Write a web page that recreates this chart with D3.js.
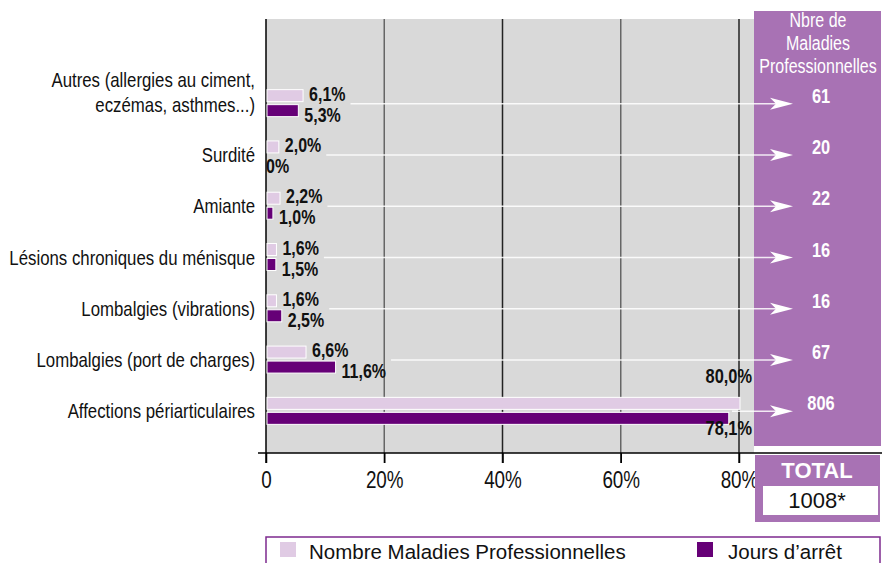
<!DOCTYPE html>
<html>
<head>
<meta charset="utf-8">
<script src="https://cdn.jsdelivr.net/npm/d3@7"></script>
<style>
  body { margin: 0; background: #fff; }
  svg { display: block; }
  text { font-family: "Liberation Sans", Arial, Helvetica, sans-serif; }
</style>
</head>
<body>
<svg id="chart" width="882" height="563"></svg>
<script>
// ---- data ----
const categories = [
  "Autres (allergies au ciment,\neczémas, asthmes...)",
  "Surdité",
  "Amiante",
  "Lésions chroniques du ménisque",
  "Lombalgies (vibrations)",
  "Lombalgies (port de charges)",
  "Affections périarticulaires"
];
const maladiesPct = [6.1, 2.0, 2.2, 1.6, 1.6, 6.6, 80.0];
const joursPct    = [5.3, 0, 1.0, 1.5, 2.5, 11.6, 78.1];
const nbreMaladies = [61, 20, 22, 16, 16, 67, 806];
const xTicks = [0, 20, 40, 60, 80];
const panelTitle = ["Nbre de", "Maladies", "Professionnelles"];
const totalLabel = "TOTAL";
const totalValue = "1008*";
const legendLabels = ["Nombre Maladies Professionnelles", "Jours d’arrêt"];

// ---- styles ----
const LIGHT = "#e0cbe4", DARK = "#660077", PANEL = "#a872b4", GRAY = "#d9d9d9";
const SQUEEZE = 0.82; // emulate a narrow typeface

const svg = d3.select("#chart");
const x = d3.scaleLinear().domain([0, 80]).range([266, 739]);
const y = d3.scaleBand().domain(categories).range([77, 436]);
const plotTop = 19, plotBottom = 453, plotRight = 754;

const fmt = v => v === 0 ? "0%" : v.toFixed(1).replace(".", ",") + "%";

// narrow text helper
function ntext(parent, tx, ty, str, o = {}) {
  const gg = parent.append("g").attr("transform", `translate(${tx},${ty}) scale(${SQUEEZE},1)`);
  const t = gg.append("text").attr("x", 0).attr("y", 0)
    .attr("text-anchor", o.anchor || "start")
    .attr("font-size", o.size || 20)
    .attr("font-weight", o.bold ? "bold" : "normal")
    .attr("fill", o.fill || "#111").text(str);
  return { g: gg, text: t, width: t.node().getComputedTextLength() * SQUEEZE };
}

// background
svg.append("rect").attr("x", x(0)).attr("y", plotTop)
  .attr("width", plotRight - x(0)).attr("height", plotBottom - plotTop).attr("fill", GRAY);

// grid lines
svg.append("g").selectAll("line").data(xTicks.filter(d => d > 0)).join("line")
  .attr("x1", d => x(d)).attr("x2", d => x(d))
  .attr("y1", plotTop).attr("y2", plotBottom + 10)
  .attr("stroke", (d, i) => i % 2 === 0 ? "#666" : "#222").attr("stroke-width", 1.5);

// purple panel
svg.append("rect").attr("x", 754).attr("y", 11).attr("width", 127).attr("height", 435).attr("fill", PANEL);
panelTitle.forEach((d, i) => ntext(svg, 818, 27 + i * 23, d, { anchor: "middle", size: 19.5, fill: "#fff" }));

// x axis
const xAxis = d3.axisBottom(x).tickValues(xTicks).tickSize(10).tickFormat(() => "");
const ax = svg.append("g").attr("transform", `translate(0,${plotBottom})`).call(xAxis);
ax.select(".domain").remove();
ax.selectAll(".tick line").attr("stroke", "#000").attr("stroke-width", 1.5);
ax.selectAll(".tick").each(function (d) {
  ntext(d3.select(this), 0, 35, d === 0 ? "0" : d + "%", { anchor: "middle", size: 23 });
});
svg.append("line").attr("x1", 258).attr("x2", 882).attr("y1", plotBottom).attr("y2", plotBottom)
  .attr("stroke", "#000").attr("stroke-width", 1.5);
svg.append("line").attr("x1", x(0)).attr("x2", x(0)).attr("y1", plotTop).attr("y2", plotBottom + 10)
  .attr("stroke", "#000").attr("stroke-width", 1.5);

// rows
const rows = categories.map((c, i) => ({ c, m: maladiesPct[i], j: joursPct[i], n: nbreMaladies[i] }));
const g = svg.append("g");
rows.forEach(r => {
  const cy = y(r.c) + y.bandwidth() / 2;
  const big = r.m > 50;
  // category label
  const lines = r.c.split("\n");
  if (lines.length === 1) {
    ntext(g, 255, cy + 8, lines[0], { anchor: "end", size: 20.5 });
  } else {
    lines.forEach((l, k) => ntext(g, 255, cy - 16 + k * 25, l, { anchor: "end", size: 20.5 }));
  }
  // bars
  g.append("rect").attr("x", x(0) + 1).attr("y", cy - 13).attr("width", Math.max(0, x(r.m) - x(0)))
    .attr("height", 12).attr("fill", LIGHT).attr("stroke", "#fff").attr("stroke-width", 1);
  if (r.j > 0)
    g.append("rect").attr("x", x(0) + 1).attr("y", cy + 2).attr("width", Math.max(0, x(r.j) - x(0)))
      .attr("height", 12).attr("fill", DARK).attr("stroke", "#fff").attr("stroke-width", 1);
  // value labels
  let ends = [];
  if (big) {
    ntext(g, 752, cy - 27, fmt(r.m), { anchor: "end", size: 20, bold: true });
    ntext(g, 752, cy + 25, fmt(r.j), { anchor: "end", size: 20, bold: true });
  } else {
    const l1 = ntext(g, x(r.m) + 7, cy - 2, fmt(r.m), { size: 19.5, bold: true });
    const jx = r.j === 0 ? x(0) : x(r.j) + 7;
    const l2 = ntext(g, jx, cy + 19, fmt(r.j), { size: 19.5, bold: true });
    ends.push(x(r.m) + 7 + l1.width);
    ends.push(jx + l2.width);
  }
  // arrow
  const ay = cy + 1;
  const startX = big ? x(r.m) - 7 : d3.max(ends) + 5;
  g.append("line").attr("x1", startX).attr("x2", 778).attr("y1", ay).attr("y2", ay)
    .attr("stroke", "#fff").attr("stroke-opacity", 0.85).attr("stroke-width", 1.5);
  g.append("path").attr("d", `M770,${ay - 6} L793,${ay} L770,${ay + 6} L776,${ay} Z`).attr("fill", "#fff");
  // count
  ntext(g, 821, cy, r.n, { anchor: "middle", size: 20, bold: true, fill: "#fff" });
});

// total box
svg.append("rect").attr("x", 755).attr("y", 455).attr("width", 125).attr("height", 67).attr("fill", PANEL);
svg.append("text").attr("font-weight", "bold").attr("font-size", 22)
  .attr("text-anchor", "middle").attr("x", 817).attr("y", 478).attr("fill", "#fff").text(totalLabel);
svg.append("rect").attr("x", 763).attr("y", 486).attr("width", 115).attr("height", 29).attr("fill", "#fff");
svg.append("text").attr("font-size", 22)
  .attr("text-anchor", "middle").attr("x", 817).attr("y", 508).attr("fill", "#111").text(totalValue);

// legend
svg.append("rect").attr("x", 266).attr("y", 537).attr("width", 614).attr("height", 32)
  .attr("fill", "#fff").attr("stroke", "#7d2a8e").attr("stroke-width", 1.5);
const legendItems = [
  { label: legendLabels[0], color: LIGHT, sx: 280, tx: 309 },
  { label: legendLabels[1], color: DARK, sx: 697, tx: 728 }
];
legendItems.forEach(d => {
  svg.append("rect").attr("x", d.sx).attr("y", 542).attr("width", 16).attr("height", 15).attr("fill", d.color);
  svg.append("text").attr("font-size", 20.5).attr("x", d.tx).attr("y", 559)
    .attr("fill", "#111").text(d.label);
});
</script>
</body>
</html>
